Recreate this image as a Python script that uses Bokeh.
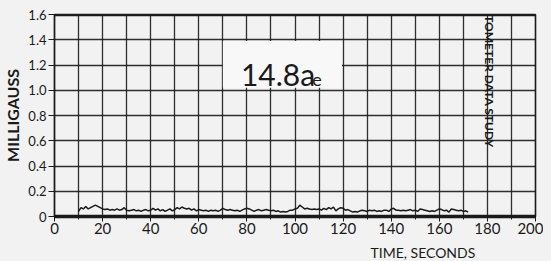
from bokeh.plotting import figure
from bokeh.models import (FixedTicker, Label, BoxAnnotation, Range1d, Span, Title)
from bokeh.embed import file_html
from bokeh.resources import INLINE

# ---- data ----
time_s = list(range(10, 173))
field_mG = [
    0.040, 0.070, 0.060, 0.080, 0.060, 0.070, 0.080, 0.090, 0.080, 0.070,   # 10-19
    0.060, 0.055, 0.060, 0.050, 0.055, 0.050, 0.060, 0.050, 0.055, 0.070,   # 20-29
    0.050, 0.045, 0.050, 0.055, 0.045, 0.050, 0.040, 0.050, 0.055, 0.045,   # 30-39
    0.050, 0.065, 0.050, 0.060, 0.045, 0.055, 0.040, 0.050, 0.060, 0.045,   # 40-49
    0.055, 0.070, 0.060, 0.075, 0.065, 0.060, 0.065, 0.050, 0.060, 0.045,   # 50-59
    0.055, 0.050, 0.045, 0.050, 0.040, 0.050, 0.045, 0.050, 0.040, 0.050,   # 60-69
    0.065, 0.055, 0.050, 0.055, 0.050, 0.045, 0.050, 0.040, 0.050, 0.060,   # 70-79
    0.065, 0.060, 0.050, 0.040, 0.050, 0.055, 0.045, 0.050, 0.055, 0.050,   # 80-89
    0.045, 0.050, 0.040, 0.045, 0.035, 0.040, 0.035, 0.040, 0.050, 0.050,   # 90-99
    0.060, 0.065, 0.090, 0.075, 0.060, 0.065, 0.060, 0.055, 0.060, 0.055,   # 100-109
    0.060, 0.050, 0.065, 0.055, 0.070, 0.060, 0.075, 0.045, 0.060, 0.070,   # 110-119
    0.065, 0.050, 0.055, 0.045, 0.035, 0.040, 0.035, 0.045, 0.050, 0.045,   # 120-129
    0.040, 0.050, 0.045, 0.050, 0.040, 0.045, 0.040, 0.050, 0.050, 0.040,   # 130-139
    0.060, 0.065, 0.050, 0.050, 0.045, 0.050, 0.045, 0.050, 0.055, 0.045,   # 140-149
    0.050, 0.040, 0.060, 0.055, 0.050, 0.045, 0.040, 0.045, 0.040, 0.050,   # 150-159
    0.060, 0.055, 0.045, 0.050, 0.035, 0.060, 0.055, 0.050, 0.045, 0.050,   # 160-169
    0.040, 0.045, 0.035,                                                    # 170-172
]
x_ticks = [0, 20, 40, 60, 80, 100, 120, 140, 160, 180, 200]
x_grid = list(range(0, 201, 10))
y_ticks = [0, 0.2, 0.4, 0.6, 0.8, 1.0, 1.2, 1.4, 1.6]
y_tick_labels = ["0", "0.2", "0.4", "0.6", "0.8", "1.0", "1.2", "1.4", "1.6"]
title_text = "14.8a"
title_sub = "e"
side_text = "TOMETER  DATA  STUDY"
x_label = "TIME, SECONDS"
y_label = "MILLIGAUSS"

BG = "#f2f2f2"
INK = "#1a1a1a"
FONT = "Lato"
X0, X1, Y0, Y1 = 0, 200, 0, 1.6

p = figure(frame_width=481, frame_height=202, output_backend="svg", toolbar_location=None,
           x_range=Range1d(X0, X1), y_range=Range1d(Y0, Y1),
           min_border_left=46, min_border_right=8, min_border_top=14,
           min_border_bottom=0)
p.background_fill_color = BG
p.border_fill_color = BG
p.outline_line_color = INK
p.outline_line_width = 1.6

# grid
p.xgrid.ticker = FixedTicker(ticks=x_grid)
p.ygrid.ticker = FixedTicker(ticks=y_ticks)
for g in (p.xgrid, p.ygrid):
    g.grid_line_color = INK
    g.grid_line_width = 1.3
    g.grid_line_alpha = 0.9

# bottom axis
xa = p.xaxis[0]
xa.ticker = FixedTicker(ticks=x_ticks, minor_ticks=x_grid)
xa.axis_line_width = 3.5
xa.axis_line_color = INK
xa.major_tick_line_color = INK
xa.major_tick_out = 5
xa.major_tick_in = 0
xa.minor_tick_out = 3
xa.minor_tick_in = 0
xa.minor_tick_line_color = INK
xa.major_label_text_font = FONT
xa.major_label_text_font_size = "15px"
xa.major_label_text_color = INK
xa.major_label_standoff = 1

# left axis
ya = p.yaxis[0]
ya.ticker = FixedTicker(ticks=y_ticks)
ya.major_label_overrides = {t: s for t, s in zip(y_ticks, y_tick_labels)}
ya.axis_line_width = 1.2
ya.axis_line_color = INK
ya.major_tick_line_color = INK
ya.major_tick_out = 6
ya.major_tick_in = 0
ya.minor_tick_line_color = None
ya.major_label_text_font = FONT
ya.major_label_text_font_size = "13px"
ya.major_label_text_color = INK
ya.major_label_standoff = 2
ya.axis_label = y_label
ya.axis_label_text_font = FONT
ya.axis_label_text_font_style = "bold"
ya.axis_label_text_font_size = "16px"
ya.axis_label_text_color = INK
ya.axis_label_standoff = 3

# thick top border
p.add_layout(Span(location=Y1, dimension="width", line_color=INK, line_width=3.5))

# data trace
p.line(time_s, field_mG, line_color=INK, line_width=1.5)

# white box behind the label
p.add_layout(BoxAnnotation(left=70, right=119.5, bottom=1.02, top=1.39,
                           fill_color="#f8f8f8", fill_alpha=1, line_color=None))
p.add_layout(Label(x=77.5, y=1.125, text=title_text, text_font=FONT,
                   text_font_size="30px", text_color=INK, text_baseline="alphabetic"))
p.add_layout(Label(x=107.2, y=1.085, text=title_sub, text_font=FONT,
                   text_font_size="18px", text_color=INK, text_baseline="alphabetic"))

# rotated side text
p.add_layout(Label(x=180.8, y=1.595, text=side_text, angle=-1.5708,
                   text_font=FONT, text_font_style="bold", text_font_size="12px",
                   text_color=INK, text_align="left", text_baseline="middle"))

# x label at lower right
p.add_layout(Title(text=x_label, align="left", offset=316, text_font=FONT,
                   text_font_size="14px", text_font_style="normal",
                   text_color=INK, standoff=10), "below")

html = file_html(p, INLINE)
html = html.replace("<head>", "<head><style>body{background:#f2f2f2;}</style>", 1)
open("out.html", "w").write(html)
